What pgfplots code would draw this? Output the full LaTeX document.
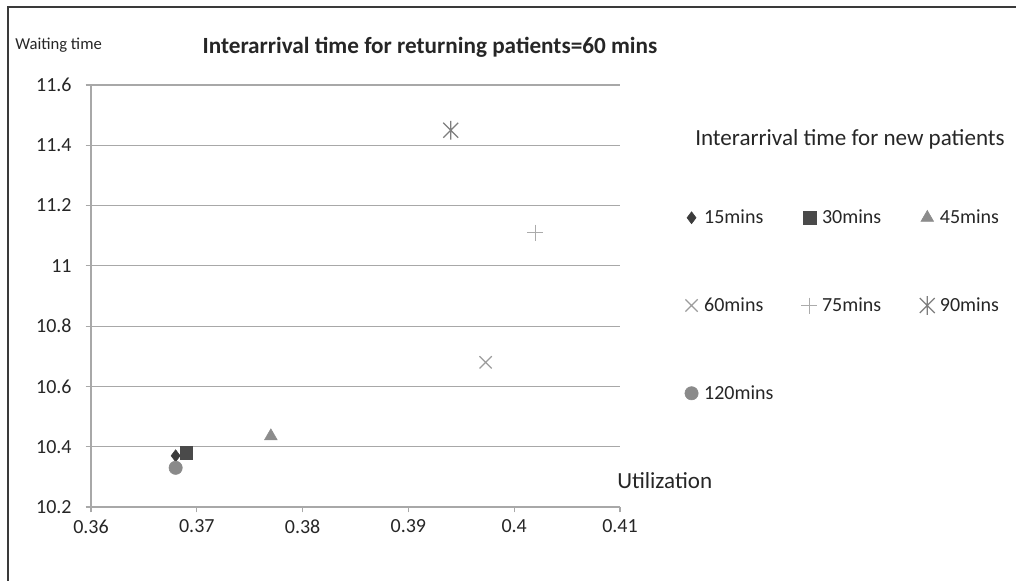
\documentclass[border=0pt]{standalone}
\usepackage{fontspec}
\setmainfont{Carlito}
\usepackage{pgfplots}
\pgfplotsset{compat=1.18}

\definecolor{txt}{HTML}{262626}
\definecolor{gridc}{HTML}{A8A8A8}
\definecolor{frame}{HTML}{3A3A3A}
\definecolor{c15}{HTML}{3C3C3C}
\definecolor{c30}{HTML}{4A4A4A}
\definecolor{c45}{HTML}{8C8C8C}
\definecolor{c60}{HTML}{9C9C9C}
\definecolor{c75}{HTML}{ABABAB}
\definecolor{c90}{HTML}{7E7E7E}
\definecolor{c120}{HTML}{8A8A8A}

% spreadsheet-style star: a cross with a vertical stroke
\pgfdeclareplotmark{xstar}{%
  \pgfpathmoveto{\pgfqpoint{-0.8\pgfplotmarksize}{-0.8\pgfplotmarksize}}%
  \pgfpathlineto{\pgfqpoint{0.8\pgfplotmarksize}{0.8\pgfplotmarksize}}%
  \pgfpathmoveto{\pgfqpoint{-0.8\pgfplotmarksize}{0.8\pgfplotmarksize}}%
  \pgfpathlineto{\pgfqpoint{0.8\pgfplotmarksize}{-0.8\pgfplotmarksize}}%
  \pgfpathmoveto{\pgfqpoint{0pt}{-\pgfplotmarksize}}%
  \pgfpathlineto{\pgfqpoint{0pt}{\pgfplotmarksize}}%
  \pgfusepathqstroke}

\pgfplotsset{
  onemark/.style={only marks,
    legend image code/.code={\path (-7pt,0pt) (7pt,0pt);
      \draw[##1] plot coordinates {(0pt,0pt)};}},
}

\begin{document}
\begin{tikzpicture}
\useasboundingbox (0,0) rectangle (762pt,435.75pt);
\draw[line width=1.2pt, frame] (6pt,-2pt) -- (6pt,430.5pt) -- (770pt,430.5pt);

\node[anchor=west, text=txt, font=\fontsize{12.5}{14}\selectfont, inner sep=0pt] at (11.25pt,402pt) {Waiting time};
\node[text=txt, font=\bfseries\fontsize{17.4}{20}\selectfont, inner sep=0pt] at (322.5pt,400.5pt) {Interarrival time for returning patients=60 mins};
\node[anchor=west, text=txt, font=\fontsize{17.3}{20}\selectfont, inner sep=0pt] at (462.75pt,75pt) {Utilization};
\node[anchor=west, text=txt, font=\fontsize{17.3}{20}\selectfont, inner sep=0pt] at (521.25pt,331.5pt) {Interarrival time for new patients};

\begin{axis}[
  at={(68.25pt,55.5pt)}, anchor=south west,
  scale only axis, width=396.75pt, height=316.5pt,
  xmin=0.36, xmax=0.41, ymin=10.2, ymax=11.6,
  axis x line*=bottom, axis y line*=left,
  axis line style={gridc, line width=0.9pt},
  ymajorgrids, major grid style={gridc, line width=0.9pt},
  tick align=outside, major tick length=4pt,
  tick style={gridc, line width=0.9pt},
  xtick={0.36,0.37,0.38,0.39,0.4,0.41},
  xticklabels={0.36,0.37,0.38,0.39,0.4,0.41},
  ytick={10.2,10.4,10.6,10.8,11,11.2,11.4,11.6},
  yticklabels={10.2,10.4,10.6,10.8,11,11.2,11.4,11.6},
  ticklabel style={font=\fontsize{15}{17}\selectfont, text=txt},
  yticklabel style={xshift=-7pt},
  xticklabel style={yshift=-2pt},
  clip=false,
  legend columns=3,
  legend cell align=left,
  legend style={draw=none, fill=none, at={(1.116,0.711)}, anchor=north west,
    font=\fontsize{15}{17}\selectfont, text=txt, row sep=50pt,
    inner sep=0pt},
]
\addplot[onemark, mark=diamond*, mark size=4.5pt, c15] coordinates {(0.368,10.37)};
\addlegendentry{\makebox[69.5pt][l]{15mins}}
\addplot[onemark, mark=square*, mark size=4.8pt, c30] coordinates {(0.369,10.38)};
\addlegendentry{\makebox[69.5pt][l]{30mins}}
\addplot[onemark, mark=triangle*, mark size=5.5pt, c45] coordinates {(0.377,10.435)};
\addlegendentry{\makebox[69.5pt][l]{45mins}}
\addplot[onemark, mark=x, mark size=6.5pt, line width=0.9pt, c60] coordinates {(0.3973,10.68)};
\addlegendentry{\makebox[69.5pt][l]{60mins}}
\addplot[onemark, mark=+, mark size=6pt, line width=0.9pt, c75] coordinates {(0.402,11.11)};
\addlegendentry{\makebox[69.5pt][l]{75mins}}
\addplot[onemark, mark=xstar, mark size=7pt, line width=0.9pt, c90] coordinates {(0.394,11.45)};
\addlegendentry{\makebox[69.5pt][l]{90mins}}
\addplot[onemark, mark=*, mark size=5pt, c120] coordinates {(0.368,10.33)};
\addlegendentry{\makebox[69.5pt][l]{120mins}}
\end{axis}
\end{tikzpicture}
\end{document}
